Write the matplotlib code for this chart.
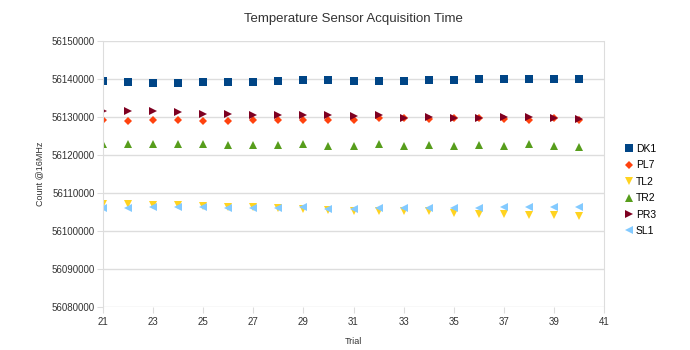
import matplotlib
matplotlib.use('Agg')
from matplotlib import pyplot as plt

plt.rcParams['font.family'] = ['Liberation Sans', 'DejaVu Sans']

# Trial numbers
trials = list(range(21, 41))

# Counts for each sensor
dk1 = [56139390, 56139300, 56139040, 56138950, 56139300, 56139130, 56139220, 56139480, 56139650, 56139650,
       56139390, 56139560, 56139390, 56139650, 56139830, 56139910, 56139910, 56139910, 56139910, 56140000]
pl7 = [56129220, 56129040, 56129300, 56129220, 56129040, 56129040, 56129300, 56129130, 56129220, 56129300,
       56129130, 56129740, 56129650, 56129480, 56129650, 56129650, 56129390, 56129300, 56129650, 56129300]
tl2 = [56107100, 56107180, 56106920, 56106920, 56106570, 56106300, 56106220, 56105950, 56105860, 56105510,
       56105340, 56105160, 56105250, 56105250, 56104720, 56104540, 56104460, 56104280, 56104190, 56104020]
tr2 = [56122780, 56122780, 56122960, 56122960, 56122780, 56122520, 56122700, 56122700, 56122960, 56122440,
       56122260, 56122960, 56122260, 56122700, 56122350, 56122700, 56122440, 56122870, 56122350, 56122180]
pr3 = [56131480, 56131650, 56131650, 56131220, 56130870, 56130870, 56130610, 56130430, 56130430, 56130430,
       56130260, 56130520, 56129830, 56130000, 56129740, 56129830, 56129910, 56130000, 56129650, 56129390]
sl1 = [56106130, 56106040, 56106300, 56106390, 56106300, 56106040, 56106040, 56106040, 56106220, 56105860,
       56105780, 56105950, 56105950, 56105950, 56105950, 56106130, 56106220, 56106390, 56106390, 56106220]

series = [
    ('DK1', dk1, 's', '#004586', 5.5),
    ('PL7', pl7, 'D', '#ff420e', 4),
    ('TL2', tl2, 'v', '#ffd320', 6),
    ('TR2', tr2, '^', '#579d1c', 6),
    ('PR3', pr3, '>', '#7e0021', 6),
    ('SL1', sl1, '<', '#83caff', 6),
]

fig = plt.figure(figsize=(6.9, 3.5), dpi=100)
ax = fig.add_axes([103 / 690, 1 - 307 / 350, (604 - 103) / 690, (307 - 41) / 350])

for name, vals, mk, col, ms in series:
    ax.plot(trials, vals, linestyle='none', marker=mk, color=col, markersize=ms,
            markeredgewidth=0, label=name)

ax.set_xlim(21, 41)
ax.set_ylim(56080000, 56150000)
ax.set_xticks(range(21, 42, 2))
ax.set_yticks(range(56080000, 56150001, 10000))
ax.get_yaxis().get_major_formatter().set_useOffset(False)
ax.get_yaxis().get_major_formatter().set_scientific(False)

ax.grid(axis='y', color='#dddddd', linewidth=1)
ax.set_axisbelow(True)
for side in ['top', 'bottom']:
    ax.spines[side].set_visible(False)
for side in ['left', 'right']:
    ax.spines[side].set_color('#dddddd')
ax.tick_params(axis='both', colors='#dddddd', labelcolor='#333333', labelsize=7, length=4)
ax.tick_params(axis='y', length=4, pad=2)

ax.set_title('Temperature Sensor Acquisition Time', fontsize=9.5, color='#333333', pad=14)
ax.set_xlabel('Trial', fontsize=6.5, color='#333333', labelpad=7)
ax.set_ylabel('Count @16MHz', fontsize=6.5, color='#333333', labelpad=5)

ax.legend(loc='center left', bbox_to_anchor=(1.02, 0.44), frameon=False, fontsize=7.5,
          handletextpad=0.2, handlelength=1, labelspacing=0.62)

fig.savefig('out.png', dpi=100)
